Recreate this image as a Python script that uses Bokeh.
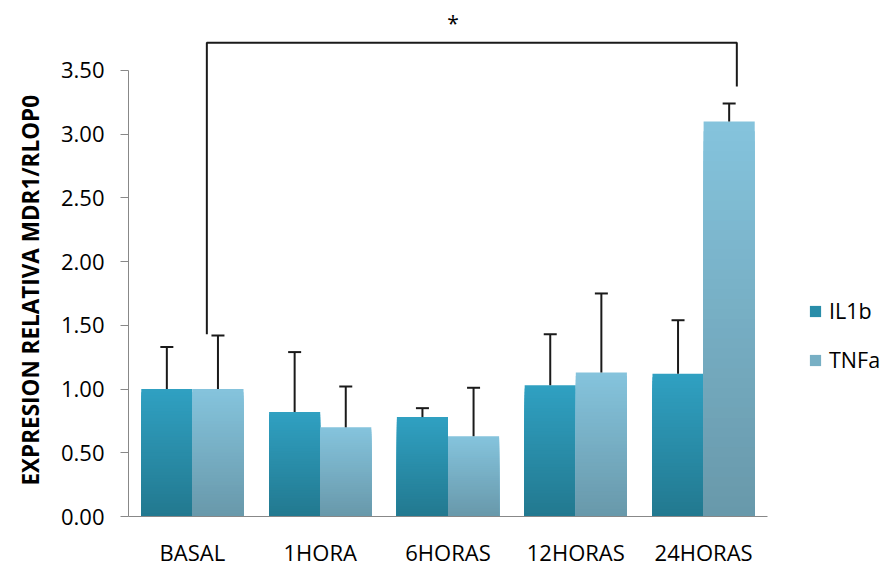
from bokeh.plotting import figure
from bokeh.models import (FixedTicker, NumeralTickFormatter, Legend, LegendItem,
                          Range1d, Title)
from bokeh.core.properties import value
from bokeh.embed import file_html
from bokeh.resources import INLINE

# ---- data ----
categories = ["BASAL", "1HORA", "6HORAS", "12HORAS", "24HORAS"]
series_names = ["IL1b", "TNFa"]
il1b = [1.00, 0.82, 0.78, 1.03, 1.12]
il1b_err = [0.33, 0.47, 0.07, 0.40, 0.42]
tnfa = [1.00, 0.70, 0.63, 1.13, 3.10]
tnfa_err = [0.42, 0.32, 0.38, 0.62, 0.14]
y_ticks = [0.0, 0.5, 1.0, 1.5, 2.0, 2.5, 3.0, 3.5]
y_title = "EXPRESION RELATIVA MDR1/RLOP0"
# significance bracket (BASAL TNFa vs 24HORAS TNFa)
bracket_x = [0.613, 0.613, 4.76, 4.76]
bracket_y = [1.43, 3.717, 3.717, 3.373]
star_label = "*"
star_x = 2.54
star_y = 3.876

FONT = "Open Sans"

# ---- colours (gradient bottom -> top) ----
il1b_bottom, il1b_top = (34, 120, 143), (48, 161, 194)
tnfa_bottom, tnfa_top = (104, 152, 170), (133, 196, 221)

def hexc(c):
    return "#%02x%02x%02x" % tuple(int(round(v)) for v in c)

def mix(a, b, t):
    return tuple(a[i] + (b[i] - a[i]) * t for i in range(3))

W, H = 883, 569
LEFT, TOP, BOTTOM = 128, 6, 52
PX_X, PX_Y = 127.8, 127.7

p = figure(width=W, height=H, output_backend="svg", toolbar_location=None,
           x_range=Range1d(0, (W - LEFT) / PX_X),
           y_range=Range1d(0, (H - TOP - BOTTOM) / PX_Y),
           min_border_left=LEFT, min_border_right=0, min_border_top=TOP,
           min_border_bottom=BOTTOM)
p.outline_line_color = None
p.xgrid.grid_line_color = None
p.ygrid.grid_line_color = None
p.background_fill_color = "white"

N = 40
def gradient_bars(xs, vals, bottom, top):
    mid_renderer = None
    for k in range(N - 1, -1, -1):
        col = hexc(mix(bottom, top, (k + 0.5) / N))
        tops = [v * (k + 1) / N for v in vals]
        r = p.vbar(x=xs, top=tops, bottom=0, width=0.4, fill_color=col,
                   line_color=None)
        if k == N // 2:
            mid_renderer = r
    return mid_renderer

idx = list(range(len(categories)))
x_il = [i + 0.3 for i in idx]
x_tn = [i + 0.7 for i in idx]

r_il = gradient_bars(x_il, il1b, il1b_bottom, il1b_top)
r_tn = gradient_bars(x_tn, tnfa, tnfa_bottom, tnfa_top)

# error bars (upper only)
for xs, vals, errs in ((x_il, il1b, il1b_err), (x_tn, tnfa, tnfa_err)):
    ups = [v + e for v, e in zip(vals, errs)]
    p.segment(x0=xs, y0=vals, x1=xs, y1=ups, line_color="#1a1a1a", line_width=2)
    p.scatter(x=xs, y=ups, marker="dash", size=13, line_color="#1a1a1a",
              line_width=2)

# bracket and star
p.line(x=bracket_x, y=bracket_y, line_color="#1a1a1a", line_width=2)
p.text(x=[star_x], y=[star_y], text=[star_label], text_font=value(FONT),
       text_font_size="21px", text_align="center", text_baseline="middle",
       text_color="#000000")

legend = Legend(items=[LegendItem(label=series_names[0], renderers=[r_il]),
                       LegendItem(label=series_names[1], renderers=[r_tn])],
                location=(680, 142), padding=0, margin=0, spacing=20,
                glyph_width=14, glyph_height=14, label_height=24,
                label_standoff=7, border_line_color=None,
                background_fill_alpha=0, label_text_font=FONT,
                label_text_font_size="21.5px", label_text_color="#000000")
p.add_layout(legend)

# y title as a side title, starting just above the axis origin
p.add_layout(Title(text=y_title, align="left", offset=31, standoff=23,
                   text_font=FONT, text_font_style="bold",
                   text_font_size="22.5px", text_color="#000000"), "left")

# axes
p.yaxis.ticker = FixedTicker(ticks=y_ticks)
p.yaxis.formatter = NumeralTickFormatter(format="0.00")
p.yaxis.bounds = (0, 3.5)
p.yaxis.axis_line_color = "#888888"
p.yaxis.major_tick_line_color = "#888888"
p.yaxis.major_tick_out = 8
p.yaxis.major_tick_in = 0
p.yaxis.minor_tick_line_color = None
p.yaxis.major_label_standoff = 16
p.yaxis.major_label_text_font = FONT
p.yaxis.major_label_text_font_size = "22px"
p.yaxis.major_label_text_color = "#000000"

p.xaxis.ticker = FixedTicker(ticks=[i + 0.5 for i in idx])
p.xaxis.major_label_overrides = {i + 0.5: c for i, c in zip(idx, categories)}
p.xaxis.bounds = (0, len(categories))
p.xaxis.axis_line_color = "#888888"
p.xaxis.major_tick_line_color = None
p.xaxis.minor_tick_line_color = None
p.xaxis.major_label_standoff = 14
p.xaxis.major_label_text_font = FONT
p.xaxis.major_label_text_font_size = "22px"
p.xaxis.major_label_text_color = "#000000"

open("out.html", "w").write(file_html(p, INLINE))
